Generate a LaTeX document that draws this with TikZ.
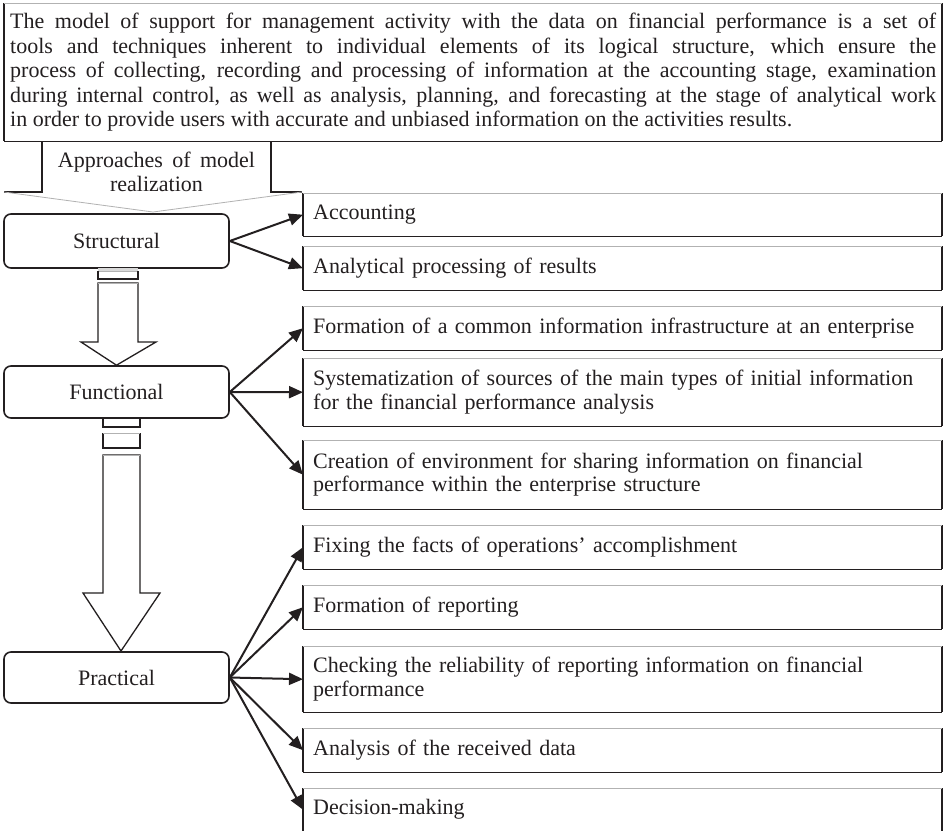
\documentclass[tikz,border=0pt]{standalone}
\usepackage{fontspec}
\setmainfont[WordSpace=1.7]{Liberation Serif}
\newfontfamily\topfont{Liberation Serif}
\usetikzlibrary{arrows.meta}
\definecolor{ink}{HTML}{231F20}
\setlength{\parindent}{0pt}
\begin{document}
\begin{tikzpicture}[x=1pt,y=-1pt,
  dk/.style={line width=1.3pt, draw=ink},
  dkt/.style={line width=2pt, draw=ink},
  lt/.style={line width=0.8pt, draw=black!30},
  lbox/.style={draw=ink, line width=1.6pt, rounded corners=7pt, minimum width=225pt,
     font=\fontsize{22}{24}\selectfont, text=ink, inner sep=0pt},
  rbox/.style={anchor=north west, minimum width=639pt, inner xsep=10pt, inner ysep=0pt,
     text width=619pt, align=left, font=\fontsize{22}{23.5}\selectfont, text=ink},
  arr/.style={line width=2pt, draw=ink, -{Triangle[length=14pt,width=12pt]}}
]
\useasboundingbox (0,0) rectangle (945,831);
\fill[white] (0,0) rectangle (945,831);

% top definition box
\node[anchor=north west, inner xsep=6pt, inner ysep=0pt, text width=926pt, minimum width=938pt,
      minimum height=138pt, align=justify, text=ink,
      font=\topfont\fontsize{22}{24.5}\selectfont] (top) at (4,3) {%
The model of support for management activity with the data on financial performance is a set of\linebreak
tools and techniques inherent to individual elements of its logical structure, which ensure the\linebreak
process of collecting, recording and processing of information at the accounting stage, examination\linebreak
during internal control, as well as analysis, planning, and forecasting at the stage of analytical work\linebreak
in order to provide users with accurate and unbiased information on the activities results.};
\draw[dkt] (top.north west) -- (top.south west);
\draw[dk] (top.south west) -- (top.south east);
\draw[dkt] (top.south east) -- (top.north east);
\draw[lt] (top.north west) -- (top.north east);

% approaches callout
\draw[dk] (42,141) -- (42,192) -- (4,192);
\draw[dk] (271,141) -- (271,192) -- (302,192);
\draw[lt] (4,192) -- (153,212) -- (302,192);
\node[align=center, text=ink, font=\fontsize{22}{24}\selectfont] (appr) at (156.5,172) {Approaches of model\\realization};

% left boxes
\node[lbox, minimum height=54pt] (S) at (116.5,241) {Structural};
\node[lbox, minimum height=52pt] (F) at (116.5,392) {Functional};
\node[lbox, minimum height=51pt] (P) at (116.5,677.5) {Practical};

% right boxes
\node[rbox, minimum height=43pt] (acc) at (303,193) {Accounting};
\node[rbox, minimum height=44pt] (ana) at (303,246) {Analytical processing of results};
\node[rbox, minimum height=44pt] (inf) at (303,306) {Formation of a common information infrastructure at an enterprise};
\node[rbox, minimum height=68pt] (sys) at (303,358) {Systematization of sources of the main types of initial information\\for the financial performance analysis};
\node[rbox, minimum height=69pt] (cre) at (303,440) {Creation of environment for sharing information on financial\\performance within the enterprise structure};
\node[rbox, minimum height=44pt] (fix) at (303,525) {Fixing the facts of operations’ accomplishment};
\node[rbox, minimum height=44pt] (rep) at (303,585) {Formation of reporting};
\node[rbox, minimum height=66pt] (chk) at (303,646) {Checking the reliability of reporting information on financial\\performance};
\node[rbox, minimum height=44pt] (anl) at (303,728) {Analysis of the received data};
\node[rbox, minimum height=43pt] (dec) at (303,788) {Decision-making};

\foreach \n in {acc,ana,inf,sys,cre,fix,rep,chk,anl}{
  \draw[dkt] (\n.north west) -- (\n.south west);
  \draw[dk] (\n.south west) -- (\n.south east);
  \draw[dkt] (\n.south east) -- (\n.north east);
  \draw[lt] (\n.north west) -- (\n.north east);
}
\draw[dkt] (dec.north west) -- (dec.south west);
\draw[dkt] (dec.north east) -- (dec.south east);
\draw[lt] (dec.north west) -- (dec.north east);

% block arrow Structural -> Functional
\fill[black!15] (98,268) rectangle (138,271);
\draw[lt] (98,271) -- (138,271);
\draw[dk] (98,271) -- (98,279) -- (138,279) -- (138,271);
\draw[dk, fill=white] (138,283) -- (98,283) -- (98,342) -- (81,342) -- (F.north) -- (156,342) -- (138,342) -- cycle;
\draw[lt] (98,283) -- (138,283);

% block arrow Functional -> Practical
\draw[dk] (103,418) -- (103,427) -- (140,427) -- (140,418);
\draw[dk] (103,433) -- (103,448) -- (140,448) -- (140,433);
\draw[lt] (103,433) -- (140,433);
\draw[dk, fill=white] (140,455) -- (103,455) -- (103,593) -- (83,593) -- (121,651) -- (160,593) -- (140,593) -- cycle;
\draw[lt] (103,455) -- (140,455);

% connectors
\draw[arr] (S.east) -- (acc.west);
\draw[arr] (S.east) -- (ana.west);
\draw[arr] (F.east) -- (inf.west);
\draw[arr] (F.east) -- (sys.west);
\draw[arr] (F.east) -- (cre.west);
\draw[arr] (P.east) -- (fix.west);
\draw[arr] (P.east) -- (rep.west);
\draw[arr] (P.east) -- (chk.west);
\draw[arr] (P.east) -- (anl.west);
\draw[arr] (P.east) -- (dec.west);
\end{tikzpicture}
\end{document}
